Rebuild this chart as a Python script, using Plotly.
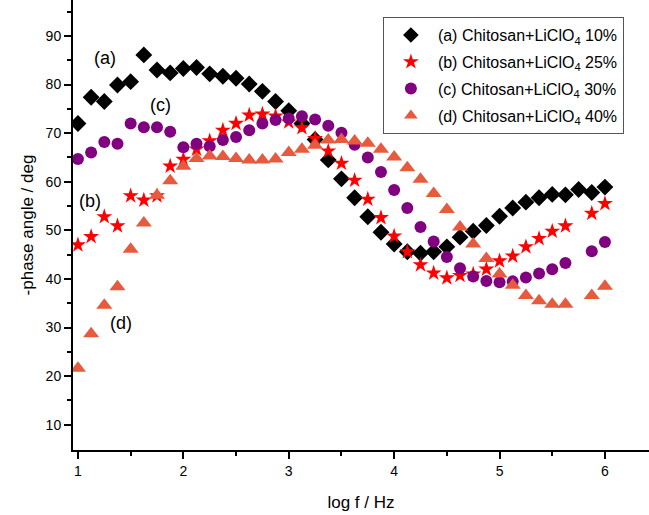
import plotly.graph_objects as go

# log f positions: 8 points per decade from 1 to 6
log_f = [1 + k / 8 for k in range(41)]

phase_a = [72.0, 77.4, 76.5, 79.9, 80.6, 86.1, 83.0, 82.4, 83.3, 83.5,
           82.2, 81.7, 81.3, 80.1, 78.6, 76.5, 74.6, 72.0, 68.7, 64.5,
           60.6, 56.7, 52.8, 49.6, 47.2, 45.6, 45.3, 45.6, 46.6, 48.6,
           49.8, 51.0, 52.9, 54.6, 55.8, 56.7, 57.4, 57.3, 58.4, 57.8, 58.9]

phase_b = [47.0, 48.7, 52.8, 50.9, 57.1, 56.2, 57.1, 63.2, 64.6, 66.7,
           68.4, 70.6, 72.0, 73.7, 73.9, 73.5, 72.3, 71.1, 68.9, 66.3,
           63.8, 60.3, 56.4, 52.6, 48.8, 45.6, 42.9, 41.2, 40.2, 40.7,
           41.0, 42.0, 43.7, 44.7, 46.6, 48.3, 49.8, 50.9, None, 53.5, 55.5]

phase_c = [64.7, 66.0, 68.2, 67.8, 72.0, 71.2, 71.2, 70.3, 67.1, 67.8,
           67.3, 68.6, 69.2, 70.6, 72.0, 72.7, 73.0, 73.5, 72.8, 71.5,
           70.1, 67.6, 65.0, 62.0, 58.3, 54.6, 50.7, 47.7, 44.5, 42.2,
           40.5, 39.6, 39.3, 39.5, 40.3, 41.1, 42.0, 43.3, None, 45.7, 47.6]

phase_d = [21.6, 28.7, 34.6, 38.4, 46.1, 51.5, 57.2, 60.2, 63.2, 64.8,
           65.3, 65.2, 64.8, 64.5, 64.5, 64.7, 66.0, 66.7, 67.5, 68.6,
           68.7, 68.4, 67.9, 66.7, 65.1, 62.9, 60.5, 57.6, 54.3, 50.7,
           47.2, 44.2, 41.0, 38.7, 36.6, 35.5, 34.8, 34.8, None, 36.6, 38.5]

names = ["(a) Chitosan+LiClO<sub>4</sub> 10%",
         "(b) Chitosan+LiClO<sub>4</sub> 25%",
         "(c) Chitosan+LiClO<sub>4</sub> 30%",
         "(d) Chitosan+LiClO<sub>4</sub> 40%"]

label_text = ["(a)", "(b)", "(c)", "(d)"]
label_x = [1.26, 1.11, 1.78, 1.41]
label_y = [85.4, 56.0, 75.8, 31.0]

styles = [
    dict(symbol="diamond", color="black", size=13),
    dict(symbol="star", color="#FF0000", size=12),
    dict(symbol="circle", color="#800080", size=12),
    dict(symbol="triangle-up", color="#E85A3E", size=14),
]

fig = go.Figure()
for i, (ys, nm, st) in enumerate(zip([phase_a, phase_b, phase_c, phase_d], names, styles)):
    fig.add_trace(go.Scatter(
        x=log_f, y=ys, mode="markers", name=nm,
        legendgroup=f"g{i}",
        marker=dict(symbol=st["symbol"], color=st["color"], size=st["size"],
                    line=dict(width=0)),
    ))

for t, x, y in zip(label_text, label_x, label_y):
    fig.add_annotation(x=x, y=y, text=t, showarrow=False,
                       font=dict(size=18, color="black", family="Liberation Sans, Arial"))

fig.update_layout(
    width=649, height=515,
    margin=dict(l=73, r=0, t=0, b=65),
    paper_bgcolor="white", plot_bgcolor="white",
    font=dict(family="Liberation Sans, Arial", size=14, color="black"),
    showlegend=True,
    legend=dict(x=0.538, y=0.962, xanchor="left", yanchor="top",
                bgcolor="white", bordercolor="#555555", borderwidth=1,
                font=dict(size=16), tracegroupgap=3, itemwidth=44,
                itemsizing="constant"),
)

fig.update_xaxes(
    range=[0.953, 6.418], tickmode="linear", tick0=1, dtick=1,
    showgrid=False, zeroline=False, showline=True, linecolor="black", linewidth=2,
    ticks="outside", ticklen=7, tickwidth=1.5, tickcolor="black",
    minor=dict(ticks="outside", dtick=0.5, tick0=1, ticklen=4, tickwidth=1.5, tickcolor="black", showgrid=False),
    tickfont=dict(size=14),
    title=dict(text="log f / Hz", font=dict(size=17), standoff=18),
)
fig.update_yaxes(
    range=[4.8, 97.4], tickmode="linear", tick0=10, dtick=10,
    tickvals=[10, 20, 30, 40, 50, 60, 70, 80, 90],
    showgrid=False, zeroline=False, showline=True, linecolor="black", linewidth=2,
    ticks="outside", ticklen=7, tickwidth=1.5, tickcolor="black",
    minor=dict(ticks="outside", tickvals=[15, 25, 35, 45, 55, 65, 75, 85, 95], ticklen=4, tickwidth=1.5, tickcolor="black", showgrid=False),
    tickfont=dict(size=14),
    title=dict(text="-phase angle / deg", font=dict(size=17), standoff=8),
)

fig.write_html("out.html")
